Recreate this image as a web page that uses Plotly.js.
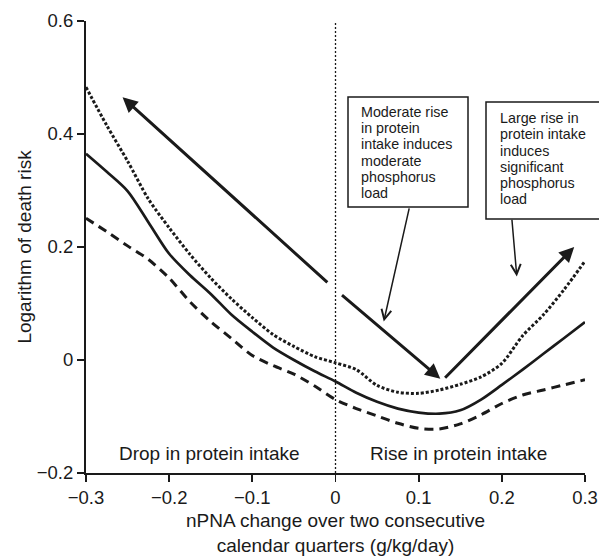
<!DOCTYPE html>
<html>
<head>
<meta charset="utf-8">
<script src="https://cdn.plot.ly/plotly-3.0.1.min.js"></script>
<style>html,body{margin:0;padding:0;background:#fff;}#chart{width:599px;height:556px;}</style>
</head>
<body>
<div id="chart"></div>
<script>
// nPNA change (g/kg/day)
const npnaChange = [-0.3,-0.275,-0.25,-0.225,-0.2,-0.175,-0.15,-0.125,-0.1,-0.075,-0.05,-0.025,0,0.025,0.05,0.075,0.1,0.125,0.15,0.175,0.2,0.225,0.25,0.275,0.3];
// Logarithm of death risk: estimate
const logRisk = [0.365,0.333,0.299,0.244,0.188,0.150,0.117,0.080,0.050,0.022,0.000,-0.020,-0.038,-0.058,-0.074,-0.086,-0.093,-0.095,-0.089,-0.070,-0.044,-0.017,0.011,0.039,0.067];
// upper confidence bound (dotted)
const upperCI = [0.483,0.415,0.352,0.285,0.234,0.187,0.145,0.108,0.075,0.045,0.024,0.006,-0.005,-0.017,-0.045,-0.057,-0.059,-0.053,-0.043,-0.030,-0.006,0.043,0.080,0.125,0.175];
// lower confidence bound (dashed)
const lowerCI = [0.251,0.227,0.202,0.178,0.145,0.103,0.068,0.038,0.008,-0.010,-0.025,-0.046,-0.070,-0.086,-0.099,-0.112,-0.121,-0.122,-0.113,-0.097,-0.077,-0.062,-0.053,-0.044,-0.035];

const xTicks = [-0.3,-0.2,-0.1,0,0.1,0.2,0.3];
const yTicks = [-0.2,0,0.2,0.4,0.6];

const box1Lines = ["Moderate rise","in protein","intake induces","moderate","phosphorus","load"];
const box2Lines = ["Large rise in","protein intake","induces","significant","phosphorus","load"];

const FONT = 'Liberation Sans, Arial, Helvetica, sans-serif';
const INK = '#1a1a1a';

const traces = [
  {x: npnaChange, y: upperCI, mode: 'lines', line: {color: INK, width: 3, dash: '3px,2px', shape: 'spline', smoothing: 0.8}, hoverinfo: 'skip'},
  {x: npnaChange, y: lowerCI, mode: 'lines', line: {color: INK, width: 3, dash: '9px,6px', shape: 'spline', smoothing: 0.8}, hoverinfo: 'skip'},
  {x: npnaChange, y: logRisk, mode: 'lines', line: {color: INK, width: 2.7, shape: 'spline', smoothing: 0.8}, hoverinfo: 'skip'}
];

// layout geometry helpers (plot area: 499 x 452 px)
const plotW = 499, plotH = 452, mT = 21;
const py = p => 1 - (p - mT) / plotH;   // page pixel row -> paper y

const annotations = [];
function arrow(x, y, ax, ay, w, head, size) {
  annotations.push({x: x, y: y, ax: ax, ay: ay, xref: 'x', yref: 'y', axref: 'x', ayref: 'y',
    text: '', showarrow: true, arrowhead: head, arrowsize: size, arrowwidth: w, arrowcolor: INK, standoff: 0, startstandoff: 0});
}
// thick arrows
arrow(-0.256, 0.465, -0.008, 0.135, 3, 2, 1);
arrow(0.126, -0.033, 0.006, 0.117, 3, 2, 1);
arrow(0.287, 0.200, 0.130, -0.034, 3, 2, 1);
// thin pointer arrows
arrow(0.058, 0.068, 0.089, 0.271, 1.5, 5, 1.3);
arrow(0.218, 0.148, 0.212, 0.251, 1.5, 5, 1.3);

function boxText(lines, xPaper, firstRow) {
  lines.forEach((t, i) => {
    annotations.push({text: t, xref: 'paper', yref: 'paper', x: xPaper, y: py(firstRow + i * 16.25),
      xanchor: 'left', yanchor: 'middle', showarrow: false, borderpad: 0,
      font: {family: FONT, size: 14.3, color: INK}});
  });
}
boxText(box1Lines, (360 - 86) / plotW, 112);
boxText(box2Lines, (499 - 86) / plotW, 118);

annotations.push({text: 'Drop in protein intake', x: -0.151, y: -0.166, xref: 'x', yref: 'y', showarrow: false,
  font: {family: FONT, size: 19, color: INK}});
annotations.push({text: 'Rise in protein intake', x: 0.148, y: -0.166, xref: 'x', yref: 'y', showarrow: false,
  font: {family: FONT, size: 19, color: INK}});

const shapes = [
  {type: 'line', xref: 'x', yref: 'paper', x0: 0, x1: 0, y0: 0, y1: 1, line: {color: INK, width: 1.3, dash: '2px,2px'}},
  {type: 'rect', xref: 'paper', yref: 'paper', x0: (348 - 86) / plotW, x1: (468 - 86) / plotW, y0: py(207), y1: py(97), line: {color: INK, width: 1.5}},
  {type: 'rect', xref: 'paper', yref: 'paper', x0: (486 - 86) / plotW, x1: 1.06, y0: py(219), y1: py(102), line: {color: INK, width: 1.5}}
];

const layout = {
  width: 599, height: 556,
  margin: {l: 86, r: 14, t: 21, b: 83},
  paper_bgcolor: '#fff', plot_bgcolor: '#fff',
  showlegend: false,
  font: {family: FONT, color: INK},
  xaxis: {
    range: [-0.3, 0.3], tickvals: xTicks, showgrid: false, zeroline: false,
    showline: true, linecolor: INK, linewidth: 2, ticks: 'outside', ticklen: 7, tickwidth: 1.8, tickcolor: INK,
    tickfont: {family: FONT, size: 18.5, color: INK},
    title: {text: 'nPNA change over two consecutive<br>calendar quarters (g/kg/day)', font: {family: FONT, size: 19, color: INK}, standoff: 14},
    automargin: false
  },
  yaxis: {
    range: [-0.2, 0.6], tickvals: yTicks, showgrid: false, zeroline: false,
    showline: true, linecolor: INK, linewidth: 2, ticks: 'outside', ticklen: 7, tickwidth: 1.8, tickcolor: INK,
    tickfont: {family: FONT, size: 18.5, color: INK}, ticklabelstandoff: 0,
    title: {text: 'Logarithm of death risk', font: {family: FONT, size: 19, color: INK}, standoff: 0},
    automargin: false
  },
  shapes: shapes,
  annotations: annotations
};

Plotly.newPlot('chart', traces, layout, {staticPlot: true, displayModeBar: false});
</script>
</body>
</html>
